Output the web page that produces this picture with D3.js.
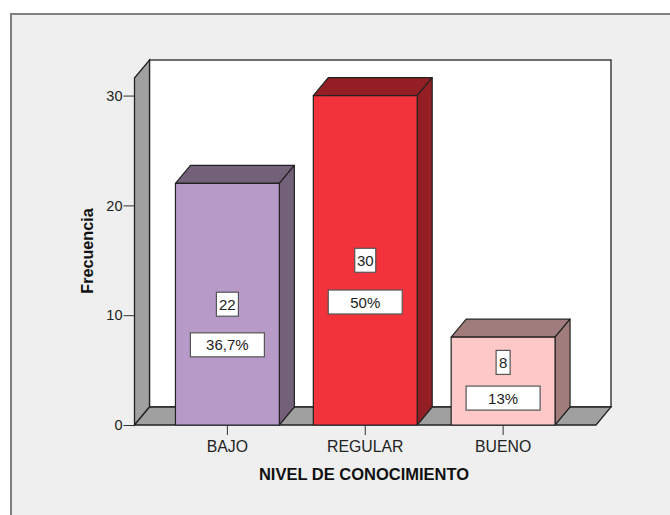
<!DOCTYPE html>
<html><head><meta charset="utf-8">
<script src="https://cdn.jsdelivr.net/npm/d3@7"></script>
<style>html,body{margin:0;padding:0;background:#fff}svg{display:block}text{font-family:"Liberation Sans",Arial,sans-serif}</style>
</head><body><svg id="c" width="670" height="515"></svg>
<script>
const categories = ["BAJO", "REGULAR", "BUENO"];
const frequencies = [22, 30, 8];
const percentLabels = ["36,7%", "50%", "13%"];
const yTicks = [0, 10, 20, 30];
const xTitle = "NIVEL DE CONOCIMIENTO";
const yTitle = "Frecuencia";
const faceColors = ["#b79ac8", "#f2333b", "#ffc8c8"];
const sideColors = ["#736079", "#931f24", "#a07c7c"];

const svg = d3.select("#c");
const L = 134.5, R = 596, B = 425, T = 78, dx = 15, dy = -18, yMax = 31.6;
const x = d3.scaleBand().domain(categories).range([L, R]).paddingInner(0.2464).paddingOuter(0.297);
const y = d3.scaleLinear().domain([0, yMax]).range([B, T]);
const stroke = "#222", poly = pts => pts.map(p => p.join(",")).join(" ");

// frame
svg.append("rect").attr("width", 670).attr("height", 515).attr("fill", "#fff");
svg.append("rect").attr("x", 11).attr("y", 14).attr("width", 670).attr("height", 520)
  .attr("fill", "#efefef").attr("stroke", "#808080").attr("stroke-width", 2);

// walls
const wallTop = y(yMax) + dy;
svg.append("rect").attr("x", L + dx).attr("y", wallTop).attr("width", R - L).attr("height", B + dy - wallTop)
  .attr("fill", "#fff").attr("stroke", stroke).attr("stroke-width", 1.3);
svg.append("polygon").attr("points", poly([[L, y(yMax)], [L + dx, wallTop], [L + dx, B + dy], [L, B]]))
  .attr("fill", "#a0a0a0").attr("stroke", stroke).attr("stroke-width", 1.3);
svg.append("polygon").attr("points", poly([[L, B], [L + dx, B + dy], [R + dx, B + dy], [R, B]]))
  .attr("fill", "#a0a0a0").attr("stroke", stroke).attr("stroke-width", 1.3);

// bars
const bars = svg.selectAll("g.bar").data(categories).join("g").attr("class", "bar");
bars.each(function (c, i) {
  const g = d3.select(this), x0 = x(c), x1 = x0 + x.bandwidth(), yt = y(frequencies[i]);
  const st = { stroke: stroke, "stroke-width": 1.2, "stroke-linejoin": "round" };
  const add = (pts, fill) => { const p = g.append("polygon").attr("points", poly(pts)).attr("fill", fill); Object.entries(st).forEach(([k, v]) => p.attr(k, v)); };
  add([[x0, yt], [x0 + dx, yt + dy], [x1 + dx, yt + dy], [x1, yt]], sideColors[i]);
  add([[x1, yt], [x1 + dx, yt + dy], [x1 + dx, B + dy], [x1, B]], sideColors[i]);
  add([[x0, yt], [x1, yt], [x1, B], [x0, B]], faceColors[i]);
});

// axes
const yAxis = d3.axisLeft(y).tickValues(yTicks).tickSize(11).tickPadding(1).tickFormat(d3.format("d"));
const gy = svg.append("g").attr("transform", `translate(${L},0)`).call(yAxis);
gy.select(".domain").remove();
gy.selectAll("line").attr("stroke", "#333").attr("stroke-width", 1);
gy.selectAll("text").attr("font-size", 14.5).attr("fill", "#222");

const xAxis = d3.axisBottom(x).tickSize(10).tickPadding(6);
const gx = svg.append("g").attr("transform", `translate(0,${B})`).call(xAxis);
gx.select(".domain").remove();
gx.selectAll("line").attr("stroke", "#333").attr("stroke-width", 1);
gx.selectAll("text").attr("font-size", 15.8).attr("fill", "#222");

svg.append("text").text(xTitle).attr("x", 364).attr("y", 480).attr("text-anchor", "middle")
  .attr("font-size", 16.5).attr("font-weight", "bold").attr("fill", "#111");
svg.append("text").text(yTitle).attr("transform", "translate(93,251) rotate(-90)").attr("text-anchor", "middle")
  .attr("font-size", 16.2).attr("font-weight", "bold").attr("fill", "#111");

// data labels (vertical centres given in axis units)
const valueAnchors = [11, 15, 5.7], percentAnchors = [7.3, 11.2, 2.45];
const valueBoxW = [22, 21, 14], boxH = 24, pctW = 74;
function label(cx, cy, w, h, t) {
  svg.append("rect").attr("x", cx - w / 2).attr("y", cy - h / 2).attr("width", w).attr("height", h)
    .attr("fill", "#fff").attr("stroke", "#555").attr("stroke-width", 1.2);
  svg.append("text").text(t).attr("x", cx).attr("y", cy + 5.5).attr("text-anchor", "middle")
    .attr("font-size", 15).attr("fill", "#222");
}
categories.forEach((c, i) => {
  const cx = x(c) + x.bandwidth() / 2;
  label(cx, y(valueAnchors[i]), valueBoxW[i], boxH, frequencies[i]);
  label(cx, y(percentAnchors[i]), pctW, boxH, percentLabels[i]);
});
</script></body></html>
